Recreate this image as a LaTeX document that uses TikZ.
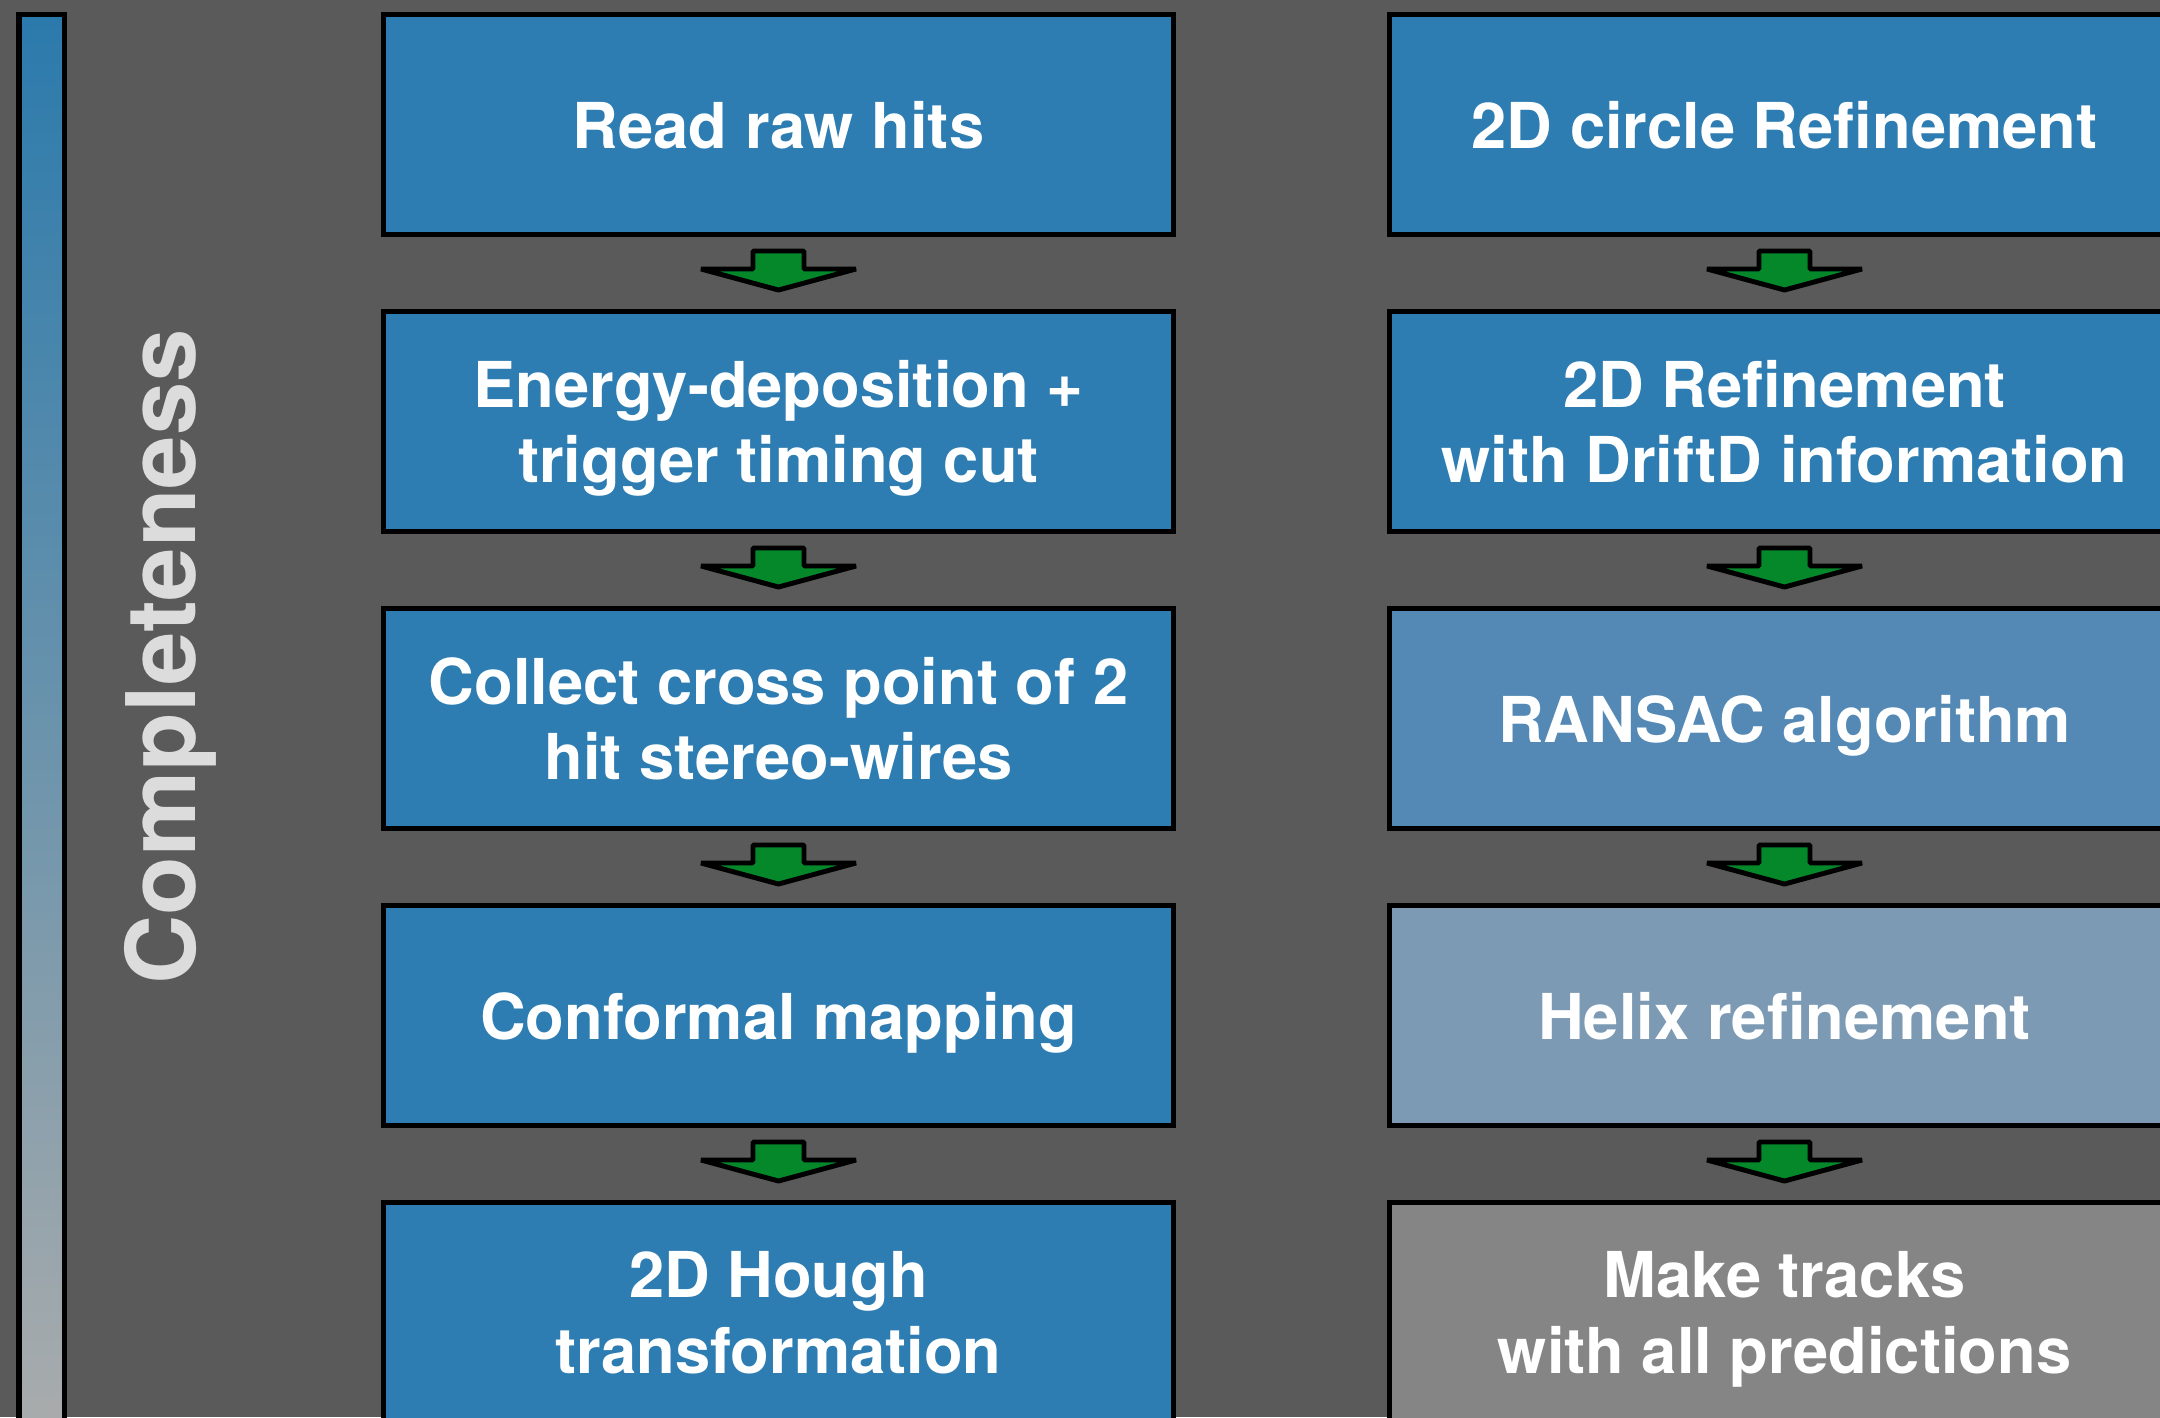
\documentclass[tikz,border=0pt]{standalone}
\usepackage{fontspec}
\setmainfont{TeX Gyre Heros}
\usetikzlibrary{calc}

\definecolor{bggray}{RGB}{90,90,90}
\definecolor{stepblue}{RGB}{45,125,178}
\definecolor{ransacblue}{RGB}{84,137,181}
\definecolor{helixblue}{RGB}{124,154,180}
\definecolor{trackgray}{RGB}{133,133,133}
\definecolor{arrowgreen}{RGB}{4,136,42}
\definecolor{bartop}{RGB}{43,122,172}
\definecolor{barbottom}{RGB}{170,172,172}
\definecolor{labelgray}{RGB}{220,220,220}

\begin{document}
\begin{tikzpicture}[
  stepbox/.style={draw=black, line width=1.5pt, fill=stepblue,
    minimum width=7.897cm, minimum height=2.197cm, inner sep=0pt, text depth=-0.05cm,
    text=white, align=center, font=\bfseries\fontsize{18}{21.5}\selectfont},
  downarrow/.style={draw=black, line width=1.4pt, fill=arrowgreen, line join=bevel}
]

\useasboundingbox (0,0) rectangle (21.6,-14.17);
\clip (0,0) rectangle (21.6,-14.17);

% Background
\fill[bggray] (0,0) rectangle (21.6,-14.17);

% Completeness bar
\shade[top color=bartop, bottom color=barbottom] (0.19,-0.145) rectangle (0.645,-14.4);
\draw[line width=1.5pt] (0.19,-0.145) rectangle (0.645,-14.4);
\node[rotate=90, text=labelgray, font=\bfseries\fontsize{27.3}{32}\selectfont] (compl) at (1.70,-6.57) {Completeness};

% Left column
\node[stepbox] (l1) at (7.785,-1.245) {Read raw hits};
\node[stepbox] (l2) at (7.785,-4.215) {Energy-deposition +\\trigger timing cut};
\node[stepbox] (l3) at (7.785,-7.185) {Collect cross point of 2\\hit stereo-wires};
\node[stepbox] (l4) at (7.785,-10.155) {Conformal mapping};
\node[stepbox] (l5) at (7.785,-13.125) {2D Hough\\transformation};

% Right column
\node[stepbox] (r1) at (17.845,-1.245) {2D circle Refinement};
\node[stepbox] (r2) at (17.845,-4.215) {2D Refinement\\with DriftD information};
\node[stepbox, fill=ransacblue] (r3) at (17.845,-7.185) {RANSAC algorithm};
\node[stepbox, fill=helixblue] (r4) at (17.845,-10.155) {Helix refinement};
\node[stepbox, fill=trackgray] (r5) at (17.845,-13.125) {Make tracks\\with all predictions};

% Block arrows between steps
\foreach \a/\b in {l1/l2,l2/l3,l3/l4,l4/l5,r1/r2,r2/r3,r3/r4,r4/r5}
  \draw[downarrow] ($(\a.south)+(-0.255,-0.14)$) -- ++(0.51,0) -- ++(0,-0.18) -- ++(0.52,0)
    -- ($(\b.north)+(0,0.19)$) -- ($(\a.south)+(-0.775,-0.32)$) -- ++(0.52,0) -- cycle;

\end{tikzpicture}
\end{document}
